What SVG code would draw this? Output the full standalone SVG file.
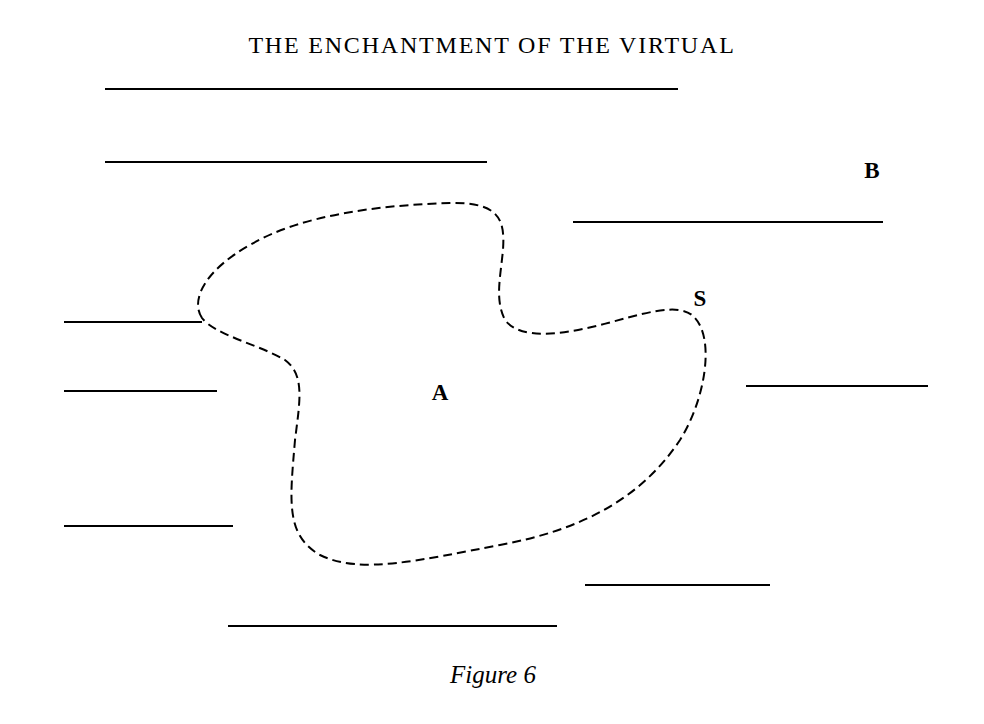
<svg xmlns="http://www.w3.org/2000/svg" width="984" height="724" viewBox="0 0 984 724">
<style>
.l{stroke:#000;stroke-width:2;fill:none}
.t{font-family:"Liberation Serif",serif;fill:#000}
</style>
<rect width="984" height="724" fill="#fff"/>
<text class="t" x="492" y="53" font-size="24" letter-spacing="1.8" text-anchor="middle">THE ENCHANTMENT OF THE VIRTUAL</text>
<g id="lines">
<line class="l" x1="105" y1="89" x2="678" y2="89"/>
<line class="l" x1="105" y1="162" x2="487" y2="162"/>
<line class="l" x1="573" y1="222" x2="883" y2="222"/>
<line class="l" x1="64" y1="322" x2="202" y2="322"/>
<line class="l" x1="64" y1="391" x2="217" y2="391"/>
<line class="l" x1="746" y1="386" x2="928" y2="386"/>
<line class="l" x1="64" y1="526" x2="233" y2="526"/>
<line class="l" x1="585" y1="585" x2="770" y2="585"/>
<line class="l" x1="228" y1="626" x2="557" y2="626"/>
</g>
<g id="A">
<path class="l" stroke-dasharray="9,5" d="M202,318 C190,300 205,270 250,245 C300,215 380,205 450,203 C500,202 505,220 503,250 C500,280 495,300 505,320 C520,340 560,335 600,325 C640,315 680,300 695,318 C715,340 705,400 680,440 C640,500 580,530 500,545 C420,560 360,575 320,555 C285,535 290,500 295,440 C300,400 305,375 285,360 C260,345 215,335 202,318 Z"/>
<text class="t" x="440" y="400" font-size="23" font-weight="bold" text-anchor="middle">A</text>
</g>
<g id="B"><text class="t" x="872" y="178" font-size="23" font-weight="bold" text-anchor="middle">B</text></g>
<g id="S"><text class="t" x="700" y="306" font-size="23" font-weight="bold" text-anchor="middle">S</text></g>
<text class="t" x="493" y="683" font-size="25" font-style="italic" text-anchor="middle">Figure 6</text>
</svg>
